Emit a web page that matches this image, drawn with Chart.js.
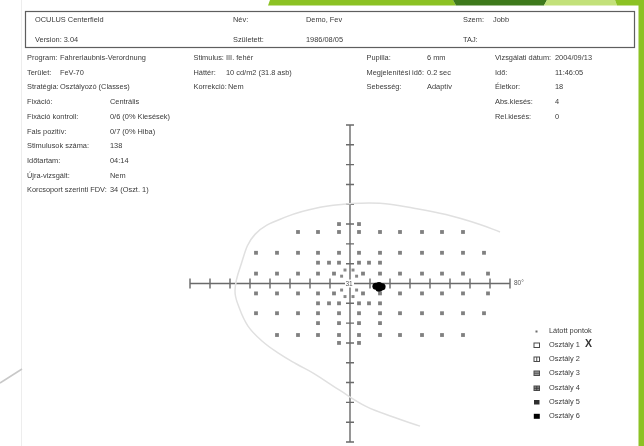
<!DOCTYPE html>
<html>
<head>
<meta charset="utf-8">
<script src="https://cdn.jsdelivr.net/npm/chart.js@4/dist/chart.umd.min.js"></script>
<style>
  html, body { margin: 0; padding: 0; background: #fff; }
  body { width: 644px; height: 446px; position: relative; overflow: hidden;
         font-family: "Liberation Sans", Arial, sans-serif; font-size: 7.4px; color: #3a3a3a; }
  .t { position: absolute; white-space: nowrap; line-height: 10px; }
  #deco, #plot { position: absolute; left: 0; top: 0; }
  .lg { position: absolute; left: 533px; width: 90px; height: 10px; }
  .lg svg { position: absolute; left: 0; top: 2px; }
  .lg span { position: absolute; left: 16px; top: 0; line-height: 10px; white-space: nowrap; }
  .mark { position: absolute; left: 585px; top: 337px; font: bold 10.5px "Liberation Sans", Arial, sans-serif; color: #333; }
</style>
</head>
<body>

<!-- page frame, theme accents and header box -->
<svg id="deco" width="644" height="446">
  <polygon points="270,0 453,0 456,5.5 268,5.5" fill="#8cc224"/>
  <polygon points="453,0 547,0 544,5.5 456,5.5" fill="#3e7a1c"/>
  <polygon points="547,0 615,0 617,5.5 544,5.5" fill="#c3e17a"/>
  <polygon points="615,0 644,0 644,446 638.5,446 638.5,5.5 617,5.5" fill="#8cc224"/>
  <line x1="21.5" y1="0" x2="21.5" y2="446" stroke="#ededed" stroke-width="1"/>
  <line x1="0" y1="383" x2="22" y2="369" stroke="#c8c8c8" stroke-width="1.5"/>
  <rect x="25.5" y="11.5" width="609" height="36" fill="none" stroke="#5e5e5e" stroke-width="1.2"/>
</svg>

<canvas id="plot" width="644" height="446"></canvas>

<!-- header -->
<div class="t" style="left:35px;top:15px">OCULUS Centerfield</div>
<div class="t" style="left:35px;top:35px">Version: 3.04</div>
<div class="t" style="left:233px;top:15px">Név:</div>
<div class="t" style="left:306px;top:15px">Demo, Fev</div>
<div class="t" style="left:233px;top:35px">Született:</div>
<div class="t" style="left:306px;top:35px">1986/08/05</div>
<div class="t" style="left:463px;top:15px">Szem:</div>
<div class="t" style="left:493px;top:15px">Jobb</div>
<div class="t" style="left:463px;top:35px">TAJ:</div>

<!-- examination parameters -->
<div class="t" style="left:27px;top:53px">Program:</div>
<div class="t" style="left:60px;top:53px">Fahrerlaubnis-Verordnung</div>
<div class="t" style="left:27px;top:67.7px">Terület:</div>
<div class="t" style="left:60px;top:67.7px">FeV-70</div>
<div class="t" style="left:27px;top:82.4px">Stratégia:</div>
<div class="t" style="left:60px;top:82.4px">Osztályozó (Classes)</div>
<div class="t" style="left:27px;top:97.1px">Fixáció:</div>
<div class="t" style="left:110px;top:97.1px">Centrális</div>
<div class="t" style="left:27px;top:111.8px">Fixáció kontroll:</div>
<div class="t" style="left:110px;top:111.8px">0/6 (0% Kiesések)</div>
<div class="t" style="left:27px;top:126.5px">Fals pozitív:</div>
<div class="t" style="left:110px;top:126.5px">0/7 (0% Hiba)</div>
<div class="t" style="left:27px;top:141.2px">Stimulusok száma:</div>
<div class="t" style="left:110px;top:141.2px">138</div>
<div class="t" style="left:27px;top:155.9px">Időtartam:</div>
<div class="t" style="left:110px;top:155.9px">04:14</div>
<div class="t" style="left:27px;top:170.6px">Újra-vizsgált:</div>
<div class="t" style="left:110px;top:170.6px">Nem</div>
<div class="t" style="left:27px;top:185.3px">Korcsoport szerinti FDV:</div>
<div class="t" style="left:110px;top:185.3px">34 (Oszt. 1)</div>

<div class="t" style="left:193.5px;top:53px">Stimulus:</div>
<div class="t" style="left:226px;top:53px">III. fehér</div>
<div class="t" style="left:193.5px;top:67.7px">Háttér:</div>
<div class="t" style="left:226px;top:67.7px">10 cd/m2 (31.8 asb)</div>
<div class="t" style="left:193.5px;top:82.4px">Korrekció:</div>
<div class="t" style="left:228px;top:82.4px">Nem</div>

<div class="t" style="left:366.5px;top:53px">Pupilla:</div>
<div class="t" style="left:427px;top:53px">6 mm</div>
<div class="t" style="left:366.5px;top:67.7px">Megjelenítési idő:</div>
<div class="t" style="left:427px;top:67.7px">0.2 sec</div>
<div class="t" style="left:366.5px;top:82.4px">Sebesség:</div>
<div class="t" style="left:427px;top:82.4px">Adaptív</div>

<div class="t" style="left:495px;top:53px">Vizsgálati dátum:</div>
<div class="t" style="left:555px;top:53px">2004/09/13</div>
<div class="t" style="left:495px;top:67.7px">Idő:</div>
<div class="t" style="left:555px;top:67.7px">11:46:05</div>
<div class="t" style="left:495px;top:82.4px">Életkor:</div>
<div class="t" style="left:555px;top:82.4px">18</div>
<div class="t" style="left:495px;top:97.1px">Abs.kiesés:</div>
<div class="t" style="left:555px;top:97.1px">4</div>
<div class="t" style="left:495px;top:111.8px">Rel.kiesés:</div>
<div class="t" style="left:555px;top:111.8px">0</div>

<!-- symbol key -->
<div class="lg" style="top:326px"><svg width="8" height="7"><rect x="2.5" y="2.5" width="2" height="2" fill="#6d6d6d"/></svg><span>Látott pontok</span></div>
<div class="lg" style="top:340px"><svg width="8" height="7"><rect x="1" y="1" width="5.5" height="4.5" fill="#fff" stroke="#4a4a4a" stroke-width="1"/></svg><span>Osztály 1</span></div>
<div class="lg" style="top:354px"><svg width="8" height="7"><rect x="1" y="1" width="5.5" height="4.5" fill="#fff" stroke="#4a4a4a" stroke-width="1"/><line x1="3.75" y1="1" x2="3.75" y2="5.5" stroke="#4a4a4a" stroke-width="1"/></svg><span>Osztály 2</span></div>
<div class="lg" style="top:368px"><svg width="8" height="7"><rect x="1" y="1" width="5.5" height="4.5" fill="#9a9a9a" stroke="#4a4a4a" stroke-width="1"/><line x1="1" y1="3.25" x2="6.5" y2="3.25" stroke="#4a4a4a" stroke-width="0.8"/></svg><span>Osztály 3</span></div>
<div class="lg" style="top:382.5px"><svg width="8" height="7"><rect x="1" y="1" width="5.5" height="4.5" fill="#8a8a8a" stroke="#4a4a4a" stroke-width="1"/><line x1="3.75" y1="1" x2="3.75" y2="5.5" stroke="#333" stroke-width="0.8"/><line x1="1" y1="3.25" x2="6.5" y2="3.25" stroke="#333" stroke-width="0.8"/></svg><span>Osztály 4</span></div>
<div class="lg" style="top:396.5px"><svg width="8" height="7"><rect x="1" y="1" width="5.5" height="4.5" fill="#2e2e2e"/></svg><span>Osztály 5</span></div>
<div class="lg" style="top:410.5px"><svg width="8" height="7"><rect x="0.8" y="0.8" width="6" height="5" fill="#000"/></svg><span>Osztály 6</span></div>
<div class="mark">X</div>

<script>
// Perimetry axes span ±80° in 10° steps
const axisMin = -80;
const axisMax = 80;
const axisStep = 10;

// Test point grid: one entry per row (elevation, degrees) with its eccentricities
const rowY = [30, 26, 15.5, 10.5, 5, -5, -10, -15, -20, -26, -30];
const rowX = [
  [-5.5, 4.5],
  [-26, -16, -5.5, 4.5, 15, 25, 36, 46, 56.5],
  [-47, -36.5, -26, -16, -5.5, 4.5, 15, 25, 36, 46, 56.5, 67],
  [-16, -10.5, -5.5, 4.5, 9.5, 15],
  [-47, -36.5, -26, -16, -8, 6.5, 15, 25, 36, 46, 56.5, 69],
  [-47, -36.5, -26, -16, -8, 6.5, 15, 25, 36, 46, 56.5, 69],
  [-16, -10.5, -5.5, 4.5, 9.5, 15],
  [-47, -36.5, -26, -16, -5.5, 4.5, 15, 25, 36, 46, 56.5, 67],
  [-16, -5.5, 4.5, 15],
  [-36.5, -26, -16, -5.5, 4.5, 15, 25, 36, 46, 56.5],
  [-5.5, 4.5]
];

// Paracentral ring around fixation
const ringX = [-2.5, 1.5, -4.2, 3.3, -4.2, 3.3, -2.5, 1.5];
const ringY = [6.8, 6.8, 3.7, 3.7, -3.3, -3.3, -6.6, -6.6];

// Absolute defects (class 6) at the blind spot
const absDefectX = [13, 14.5, 16, 14.5];
const absDefectY = [-1.4, -1.1, -1.7, -2.4];

// Foveal threshold (dB)
const fovealThreshold = 31;

// Normal field boundary outline
const boundaryX = [75, 65, 48, 32, 15, 0, -15, -31, -47.5, -55, -57.5, -55.5, -51, -44, -36, -27, -18, -5, 8, 22, 35];
const boundaryY = [26, 29.8, 34.8, 38, 40.5, 40.3, 38.5, 34, 24.8, 8, -3.6, -12, -21.5, -29, -35, -40.5, -45.5, -54, -62, -67.5, -72];

const zip = (xs, ys) => xs.map((v, i) => ({ x: v, y: ys[i] }));
const gridPoints = rowY.flatMap((yv, i) => rowX[i].map(xv => ({ x: xv, y: yv })));

const crossAxes = {
  id: 'crossAxes',
  beforeDatasetsDraw(chart) {
    const { ctx, scales: { x, y } } = chart;
    const x0 = x.getPixelForValue(0);
    const y0 = y.getPixelForValue(0);
    ctx.save();
    ctx.strokeStyle = '#6a6a6a';
    ctx.lineWidth = 1.4;
    ctx.beginPath();
    ctx.moveTo(x.getPixelForValue(axisMin), y0);
    ctx.lineTo(x.getPixelForValue(axisMax), y0);
    ctx.moveTo(x0, y.getPixelForValue(axisMax));
    ctx.lineTo(x0, y.getPixelForValue(axisMin));
    for (let v = axisMin; v <= axisMax; v += axisStep) {
      if (v === 0) continue;
      const px = x.getPixelForValue(v);
      ctx.moveTo(px, y0 - 5);
      ctx.lineTo(px, y0 + 5);
      const py = y.getPixelForValue(v);
      ctx.moveTo(x0 - 4, py);
      ctx.lineTo(x0 + 4, py);
    }
    ctx.stroke();
    ctx.fillStyle = '#555';
    ctx.font = '6.5px "Liberation Sans", Arial, sans-serif';
    ctx.textBaseline = 'middle';
    ctx.textAlign = 'left';
    ctx.fillText(axisMax + '°', x.getPixelForValue(axisMax) + 4, y0);
    ctx.restore();
  },
  afterDatasetsDraw(chart) {
    const { ctx, scales: { x, y } } = chart;
    const x0 = x.getPixelForValue(0);
    const y0 = y.getPixelForValue(0);
    ctx.save();
    ctx.fillStyle = '#fff';
    ctx.fillRect(x0 - 5, y0 - 4, 9, 8);
    ctx.fillStyle = '#555';
    ctx.font = '6.5px "Liberation Sans", Arial, sans-serif';
    ctx.textAlign = 'center';
    ctx.textBaseline = 'middle';
    ctx.fillText(String(fovealThreshold), x0 - 1, y0 + 0.5);
    ctx.restore();
  }
};

new Chart(document.getElementById('plot'), {
  type: 'scatter',
  data: {
    datasets: [
      {
        type: 'line',
        label: 'Határ',
        data: zip(boundaryX, boundaryY),
        borderColor: '#e0e0e0',
        borderWidth: 1.5,
        pointRadius: 0,
        tension: 0.4,
        fill: false,
        clip: false,
        order: 4
      },
      {
        label: 'Látott pontok',
        data: gridPoints,
        pointStyle: 'rect',
        pointRadius: 2.7,
        backgroundColor: '#808080',
        borderWidth: 0,
        order: 3
      },
      {
        label: 'Látott pontok (centrális)',
        data: zip(ringX, ringY),
        pointStyle: 'rect',
        pointRadius: 2.1,
        backgroundColor: '#888',
        borderWidth: 0,
        order: 2
      },
      {
        label: 'Osztály 6',
        data: zip(absDefectX, absDefectY),
        pointStyle: 'circle',
        pointRadius: 3.6,
        backgroundColor: '#000',
        borderWidth: 0,
        order: 1
      }
    ]
  },
  options: {
    responsive: false,
    animation: false,
    events: [],
    layout: { padding: { left: 190, right: 134, top: 125, bottom: 1 } },
    plugins: { legend: { display: false }, tooltip: { enabled: false } },
    scales: {
      x: { type: 'linear', min: axisMin, max: axisMax, display: false },
      y: { type: 'linear', min: axisMin, max: axisMax, display: false }
    }
  },
  plugins: [crossAxes]
});
</script>
</body>
</html>
